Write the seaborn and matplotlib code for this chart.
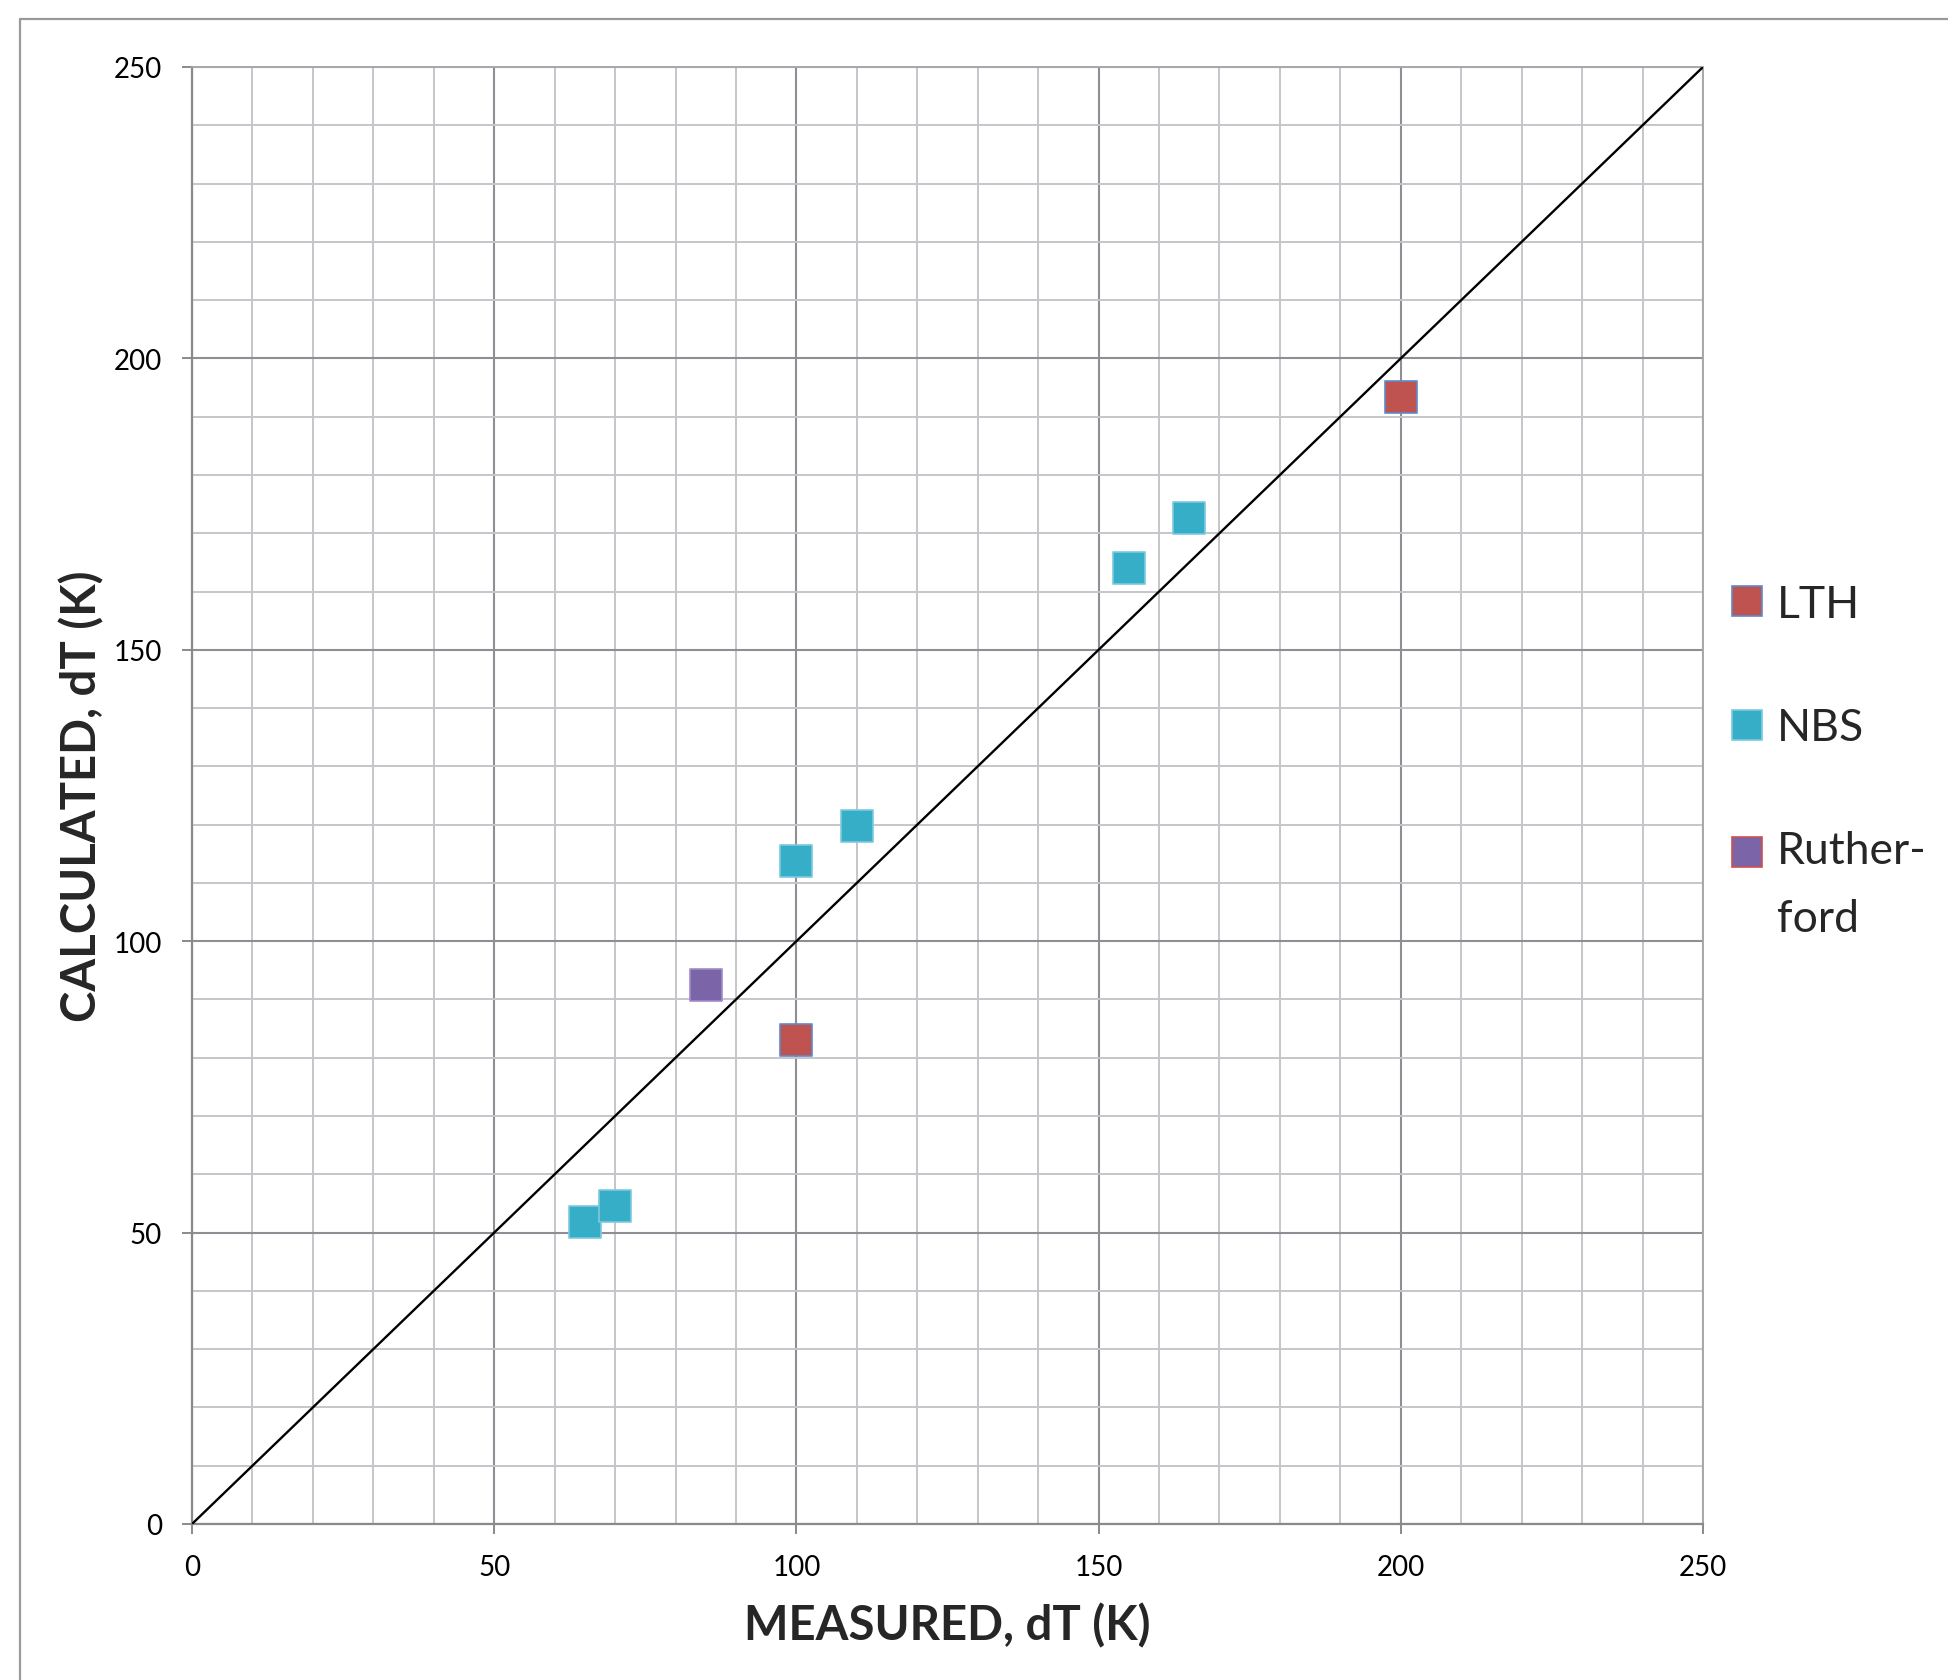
import matplotlib
matplotlib.use("Agg")
import matplotlib.pyplot as plt
from matplotlib.lines import Line2D
import seaborn as sns
import pandas as pd
import numpy as np

# ---- data ----
series_names = ["LTH", "NBS", "Rutherford"]
lth_measured = [100, 200]
lth_calculated = [83, 193.3]
nbs_measured = [65, 70, 100, 110, 155, 165]
nbs_calculated = [51.8, 54.6, 113.8, 119.7, 164.0, 172.6]
ruth_measured = [85]
ruth_calculated = [92.4]
legend_labels = ["LTH", "NBS", "Ruther-\nford"]
line_x = [0, 250]
line_y = [0, 250]
major_ticks = [0, 50, 100, 150, 200, 250]

# ---- style ----
sns.set_theme(style="white")
plt.rcParams['font.family'] = ['Lato', 'DejaVu Sans']

fill_colors = {"LTH": "#BE5350", "NBS": "#36AEC8", "Rutherford": "#7B64A8"}
edge_colors = {"LTH": "#5F8ACB", "NBS": "#7CCAE0", "Rutherford": "#A08CC8"}
legend_edges = {"LTH": "#5F8ACB", "NBS": "#7CCAE0", "Rutherford": "#D0504D"}

W, H = 1948, 1681
fig = plt.figure(figsize=(W / 100, H / 100), dpi=100)
ax = fig.add_axes([192 / W, 1 - 1525 / H, (1703 - 192) / W, (1525 - 68) / H])

df = pd.concat([
    pd.DataFrame({"x": lth_measured, "y": lth_calculated, "s": "LTH"}),
    pd.DataFrame({"x": nbs_measured, "y": nbs_calculated, "s": "NBS"}),
    pd.DataFrame({"x": ruth_measured, "y": ruth_calculated, "s": "Rutherford"}),
], ignore_index=True)

# diagonal reference line
sns.lineplot(x=line_x, y=line_y, ax=ax, color="black", linewidth=1.7, zorder=3)

for name in series_names:
    sub = df[df["s"] == name]
    sns.scatterplot(data=sub, x="x", y="y", ax=ax, marker="s", s=500,
                    color=fill_colors[name], edgecolor=edge_colors[name],
                    linewidth=1.2, zorder=4, legend=False)

ax.set_xlim(0, 250)
ax.set_ylim(0, 250)
ax.set_xticks(major_ticks)
ax.set_yticks(major_ticks)
ax.set_xticks(np.arange(0, 251, 10), minor=True)
ax.set_yticks(np.arange(0, 251, 10), minor=True)
ax.set_xticklabels([str(t) for t in major_ticks])
ax.set_yticklabels([str(t) for t in major_ticks])

ax.grid(which="minor", color="#C6C6CA", linewidth=1.4, zorder=0)
ax.grid(which="major", color="#8E8E94", linewidth=1.5, zorder=1)
ax.set_axisbelow(True)

ax.tick_params(axis="both", which="major", direction="out", length=7.5, width=1.4,
               color="#8A8A8A", labelsize=20, labelcolor="black",
               bottom=True, left=True)
ax.tick_params(axis="x", which="major", pad=14)
ax.tick_params(axis="y", which="major", pad=14)
ax.tick_params(which="minor", length=0)

for side in ["left", "bottom"]:
    ax.spines[side].set_color("#8A8A8A")
    ax.spines[side].set_linewidth(1.6)
for side in ["top", "right"]:
    ax.spines[side].set_color("#A8A8AC")
    ax.spines[side].set_linewidth(1.4)

ax.set_xlabel("MEASURED, dT (K)", fontsize=34, fontweight="bold", labelpad=16)
ax.set_ylabel("CALCULATED, dT (K)", fontsize=34, fontweight="bold", labelpad=7)

# legend
handles = [Line2D([], [], linestyle="none", marker="s", markersize=22,
                  markerfacecolor=fill_colors[n], markeredgecolor=legend_edges[n],
                  markeredgewidth=1.2) for n in series_names]
leg = fig.legend(handles, legend_labels, loc="upper left",
                 bbox_to_anchor=(1731 / W, 1 - 585 / H), frameon=False,
                 fontsize=32, handlelength=0.7, handletextpad=0.34,
                 labelspacing=1.85, borderpad=0, borderaxespad=0)
leg.texts[2].set_linespacing(1.8)

# align the multi-line entry's marker with its first text line
fig.canvas.draw()
renderer = fig.canvas.get_renderer()
h_tot = leg.texts[2].get_window_extent(renderer).height
h_one = leg.texts[0].get_window_extent(renderer).height
shift_pts = (h_tot - h_one) / 2 * 72 / fig.dpi
hd = leg.legend_handles[2]
hd.set_ydata(np.asarray(hd.get_ydata(), dtype=float) + shift_pts)

# outer figure frame (top and left edges visible)
x0 = 19.5 / W
y0 = 1 - 19.5 / H
fig.add_artist(Line2D([x0, x0], [0, y0], transform=fig.transFigure,
                      color="#9A9A9A", linewidth=1.6))
fig.add_artist(Line2D([x0, 1], [y0, y0], transform=fig.transFigure,
                      color="#9A9A9A", linewidth=1.6))

fig.savefig("out.png", dpi=100, facecolor="white")
